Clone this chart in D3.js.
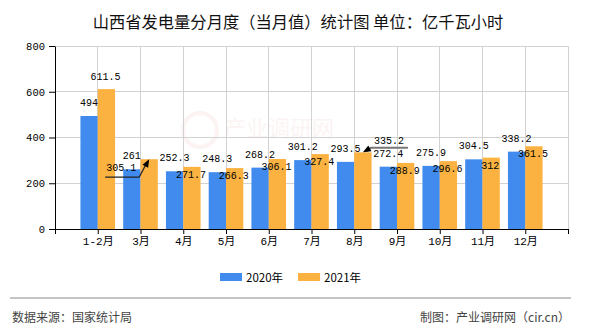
<!DOCTYPE html>
<html><head><meta charset="utf-8">
<script src="https://cdn.jsdelivr.net/npm/d3@7/dist/d3.min.js"></script>
<style>
body{margin:0;background:#fff;}
svg{display:block;}
</style></head>
<body>
<svg id="chart" width="590" height="330"></svg>
<script>
// ---- data ----
const categories = ["1-2月","3月","4月","5月","6月","7月","8月","9月","10月","11月","12月"];
const values2020 = [494,261,252.3,248.3,268.2,301.2,293.5,272.4,275.9,304.5,338.2];
const values2021 = [611.5,305.1,271.7,266.3,306.1,327.4,335.2,288.9,296.6,312,361.5];
const seriesNames = ["2020年","2021年"];
const yTicks = [0,200,400,600,800];
// label placement for 2021 series (layout only)
const labelMode2021 = ["above","arrowLeft","inside","inside","inside","inside","arrowRight","inside","inside","inside","inside"];

const colors = ["#418BEE","#FBB241"];
const numFont = "'Liberation Mono','DejaVu Sans Mono',monospace";
const cjkFont = "'Noto Sans CJK SC','Noto Sans',sans-serif";

const svg = d3.select("#chart");
const L = 55, R = 568, T = 46, B = 229;
const x = d3.scaleLinear().domain([0, categories.length + 1]).range([L, R]);
const y = d3.scaleLinear().domain([0, 800]).range([B, T]);
const step = x(1) - x(0);
const bw = step * 0.405;

// title
svg.append("text").attr("x", 298).attr("y", 21).attr("text-anchor","middle")
  .attr("dominant-baseline","central").attr("font-family", cjkFont).attr("font-size", 16.3)
  .attr("font-weight", 400).attr("fill","#111")
  .text("山西省发电量分月度（当月值）统计图 单位：亿千瓦小时");

// watermark
const wm = svg.append("g").attr("opacity", 0.07);
wm.append("circle").attr("cx", 200).attr("cy", 130).attr("r", 17).attr("fill","none")
  .attr("stroke","#d66").attr("stroke-width", 4);
wm.append("text").attr("x", 224).attr("y", 126).attr("dominant-baseline","central")
  .attr("font-family", cjkFont).attr("font-size", 22).attr("fill","#d66").text("产业调研网");

// gridlines
const grid = svg.append("g");
grid.selectAll("line.h").data(yTicks.slice(1)).join("line")
  .attr("x1", L).attr("x2", R).attr("y1", d => y(d)).attr("y2", d => y(d))
  .attr("stroke","#d2d2d2").attr("stroke-width",1).attr("shape-rendering","crispEdges");
grid.selectAll("line.v").data(d3.range(1, categories.length + 2)).join("line")
  .attr("x1", d => x(d)).attr("x2", d => x(d)).attr("y1", T).attr("y2", B)
  .attr("stroke","#d2d2d2").attr("stroke-width",1).attr("shape-rendering","crispEdges");

// bars
const bars = svg.append("g");
categories.forEach((c, i) => {
  const cx = x(i + 1);
  bars.append("rect").attr("x", cx - bw).attr("y", y(values2020[i]))
    .attr("width", bw).attr("height", y(0) - y(values2020[i])).attr("fill", colors[0]);
  bars.append("rect").attr("x", cx).attr("y", y(values2021[i]))
    .attr("width", bw).attr("height", y(0) - y(values2021[i])).attr("fill", colors[1]);
});

// axes
const yAxis = d3.axisLeft(y).tickValues(yTicks).tickSize(6).tickPadding(4).tickSizeOuter(0);
const gy = svg.append("g").attr("transform", `translate(${L},0)`).call(yAxis);
gy.selectAll("text").attr("font-family", numFont).attr("font-size", 10.5).attr("fill","#000");
gy.selectAll("line,path").attr("stroke","#000");

const xAxis = d3.axisBottom(x).tickValues(d3.range(0, categories.length + 2))
  .tickFormat(d => categories[d - 1] || "").tickSize(5).tickPadding(3).tickSizeOuter(0);
const gx = svg.append("g").attr("transform", `translate(0,${B})`).call(xAxis);
gx.selectAll("text").attr("font-family", numFont + "," + cjkFont).attr("font-size", 11).attr("fill","#000");
gx.selectAll("line,path").attr("stroke","#000");

// value labels
const lbl = svg.append("g").attr("font-family", numFont).attr("font-size", 10).attr("fill","#000");
function addText(tx, ty, t) {
  lbl.append("text").attr("x", tx).attr("y", ty).attr("text-anchor","middle")
    .attr("dominant-baseline","central").text(t);
}
categories.forEach((c, i) => {
  const cx = x(i + 1);
  addText(cx - bw / 2, y(values2020[i]) - 12.5, String(values2020[i]));
  const ox = cx + bw / 2, oy = y(values2021[i]);
  const m = labelMode2021[i];
  if (m === "above") addText(ox - 1, oy - 12, String(values2021[i]));
  else if (m === "inside") addText(ox - 1, oy + 8.5, String(values2021[i]));
  else if (m === "arrowLeft") {
    const lx = ox - 28, ly = oy + 9;
    addText(lx, ly, String(values2021[i]));
    const ly2 = ly + 9;
    svg.append("path").attr("d", `M${lx - 16},${ly2}L${ox - 10},${ly2}L${ox - 2},${oy + 3}`)
      .attr("fill","none").attr("stroke","#222").attr("stroke-width",1.3);
    arrowHead(ox - 10, ly2, ox, oy);
  } else if (m === "arrowRight") {
    const lx = ox + 26, ly = oy - 11;
    addText(lx, ly, String(values2021[i]));
    const ly2 = ly + 6.5;
    svg.append("path").attr("d", `M${lx + 19},${ly2}L${ox + 8},${ly2}L${ox + 3},${oy - 1}`)
      .attr("fill","none").attr("stroke","#777").attr("stroke-width",2);
    arrowHead(ox + 8, ly2, ox, oy);
  }
});
function arrowHead(fx, fy, tx, ty) {
  const a = Math.atan2(ty - fy, tx - fx);
  const len = 8, w = 3.2;
  const bx = tx - len * Math.cos(a), by = ty - len * Math.sin(a);
  const px = -Math.sin(a) * w, py = Math.cos(a) * w;
  svg.append("path").attr("d", `M${tx},${ty}L${bx + px},${by + py}L${bx - px},${by - py}Z`).attr("fill","#000");
}

// legend
const lg = svg.append("g").attr("font-family", cjkFont).attr("font-size", 11.5).attr("fill","#000");
[220, 298].forEach((lx, k) => {
  lg.append("rect").attr("x", lx).attr("y", 273).attr("width", 22).attr("height", 8).attr("fill", colors[k]);
  lg.append("text").attr("x", lx + 26).attr("y", 277).attr("dominant-baseline","central").text(seriesNames[k]);
});

// footer
svg.append("line").attr("x1", 10).attr("x2", 571).attr("y1", 298).attr("y2", 298)
  .attr("stroke","#8a8a8a").attr("stroke-width",1.2);
svg.append("text").attr("x", 12).attr("y", 316).attr("dominant-baseline","central")
  .attr("font-family", cjkFont).attr("font-size", 12).attr("fill","#444").text("数据来源：国家统计局");
svg.append("text").attr("x", 570).attr("y", 316).attr("dominant-baseline","central").attr("text-anchor","end")
  .attr("font-family", cjkFont).attr("font-size", 12).attr("fill","#444").text("制图：产业调研网（cir.cn）");
</script>
</body></html>
